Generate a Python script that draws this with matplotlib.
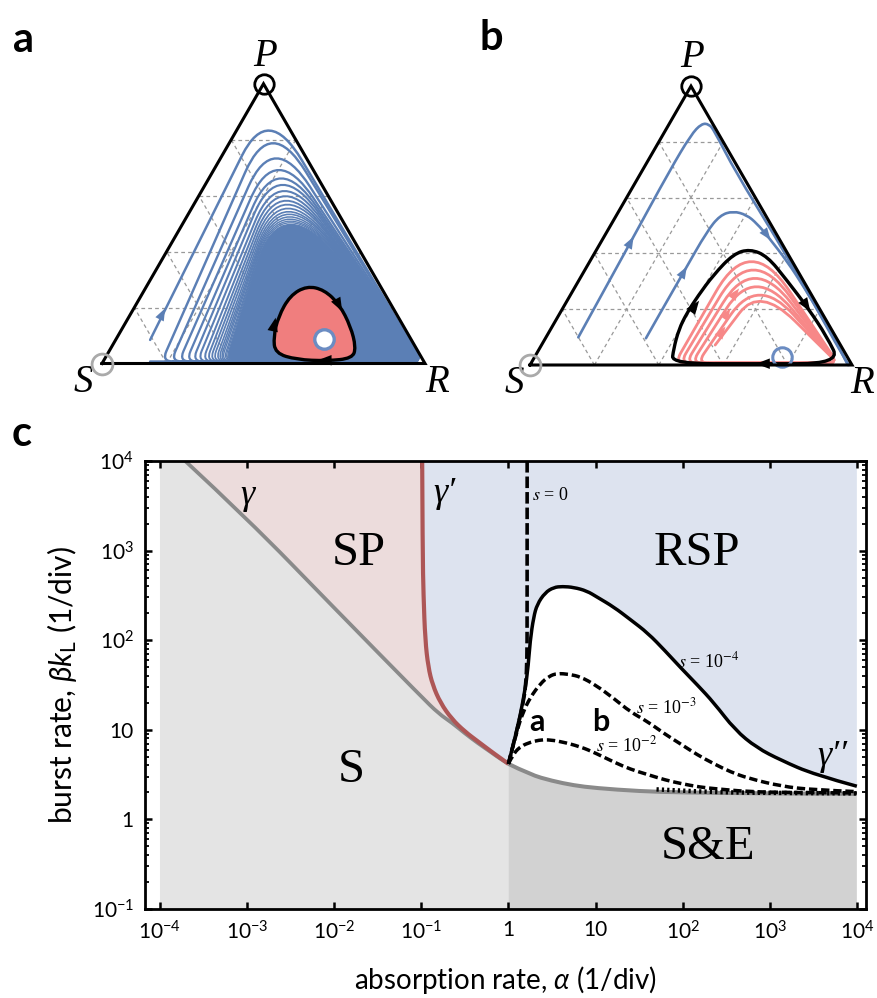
import numpy as np
import matplotlib
matplotlib.use('Agg')
import matplotlib.pyplot as plt
from matplotlib.path import Path
from matplotlib.patches import PathPatch, Polygon
from matplotlib.ticker import LogLocator, NullLocator, FixedLocator, FixedFormatter

W, H = 877, 998
plt.rcParams['font.family'] = ['Lato', 'DejaVu Sans']
plt.rcParams['mathtext.fontset'] = 'custom'
plt.rcParams['mathtext.rm'] = 'Lato'
plt.rcParams['mathtext.it'] = 'Lato:italic'
plt.rcParams['mathtext.bf'] = 'Lato:bold'
plt.rcParams['mathtext.fallback'] = 'stixsans'

SERIF = 'Liberation Serif'
BLUE = '#5b7fb5'
SALMON = '#f07e7e'
PINKLINE = '#f78888'

# ---------------- data: panel a (ternary, coordinates in triangle units) ----------------
a_start = (0.149, 0.073)
a_feet = [0.185, 0.213, 0.238, 0.260, 0.279, 0.295, 0.310, 0.322, 0.332, 0.341,
          0.350, 0.357, 0.363, 0.368, 0.374, 0.378, 0.382]
a_apex_x = [0.52, 0.53, 0.54, 0.548, 0.555, 0.56, 0.565, 0.568, 0.571, 0.574,
            0.576, 0.578, 0.58, 0.581, 0.582, 0.583, 0.584, 0.585]
a_apex_y = [0.721, 0.682, 0.635, 0.599, 0.573, 0.553, 0.534, 0.518, 0.504, 0.492,
            0.480, 0.470, 0.462, 0.454, 0.447, 0.441, 0.436, 0.431]
a_cycle = [(0.536, 0.032), (0.531, 0.083), (0.546, 0.145), (0.582, 0.210), (0.634, 0.240),
           (0.688, 0.228), (0.735, 0.183), (0.770, 0.114), (0.786, 0.050), (0.775, 0.016),
           (0.696, 0.008), (0.603, 0.012)]
a_fixed = (0.688, 0.075)
a_cycle_arrows = [((0.535, 0.130), (0.22, 1.0)), ((0.738, 0.172), (0.47, -0.88)), ((0.68, 0.010), (-1.0, 0.0))]
a_blue_arrows = [((0.190, 0.160), (0.45, 0.89))]

# ---------------- data: panel b ----------------
b_traj1 = [(0.150, 0.086), (0.316, 0.388), (0.435, 0.606), (0.500, 0.715), (0.533, 0.750),
           (0.556, 0.748), (0.572, 0.728), (0.638, 0.600), (0.761, 0.400), (0.877, 0.200),
           (0.970, 0.030), (0.990, 0.000)]
b_traj2 = [(0.360, 0.083), (0.404, 0.161), (0.481, 0.295), (0.549, 0.414), (0.590, 0.465),
           (0.631, 0.478), (0.673, 0.466), (0.704, 0.440), (0.740, 0.398), (0.800, 0.320),
           (0.852, 0.240), (0.912, 0.140), (0.958, 0.060), (0.987, 0.000)]
b_cycle = [(0.440, 0.004), (0.446, 0.050), (0.462, 0.110), (0.487, 0.161), (0.522, 0.215),
           (0.570, 0.280), (0.632, 0.345), (0.683, 0.360), (0.737, 0.338), (0.797, 0.264),
           (0.864, 0.176), (0.922, 0.088), (0.963, 0.004), (0.700, 0.004)]
b_start = (0.575, 0.062)
b_feet = [0.520, 0.502, 0.484, 0.466, 0.450]
b_apex_x = [0.725, 0.714, 0.704, 0.699, 0.694, 0.688]
b_apex_y = [0.197, 0.217, 0.243, 0.269, 0.295, 0.321]
b_fixed = (0.782, 0.026)
b_blue_arrows = [((0.316, 0.388), (0.48, 0.88)), ((0.481, 0.295), (0.5, 0.866)), ((0.740, 0.398), (0.6, -0.8))]
b_black_arrows = [((0.518, 0.190), (0.6, 0.8)), ((0.864, 0.176), (0.55, -0.84)), ((0.714, 0.004), (-1.0, 0.0))]
b_pink_arrows = [((0.600, 0.109), (0.55, 0.83)), ((0.616, 0.166), (0.55, 0.83)), ((0.642, 0.228), (0.6, 0.8))]

# ---------------- data: panel c (log10 of alpha, log10 of burst rate) ----------------
gamma_la = [-3.71, -3.0, -2.0, -1.0, -0.8, -0.65, -0.5, -0.35, -0.2, -0.1, 0.0]
gamma_lb = [4.0, 3.36, 2.36, 1.37, 1.18, 1.08, 0.96, 0.85, 0.75, 0.68, 0.62]
gammap_la = [-0.99, -0.985, -0.975, -0.955, -0.92, -0.87, -0.78, -0.65, -0.5, -0.35, -0.2, -0.1, 0.0]
gammap_lb = [4.0, 3.0, 2.5, 2.0, 1.7, 1.5, 1.3, 1.12, 0.98, 0.87, 0.76, 0.69, 0.62]
gammapp_la = [0.0, 0.25, 0.5, 0.75, 1.0, 1.5, 2.0, 3.0, 4.0]
gammapp_lb = [0.62, 0.50, 0.43, 0.38, 0.35, 0.315, 0.30, 0.29, 0.285]
s0_la = [0.215, 0.215, 0.213, 0.20, 0.17, 0.10, 0.0]
s0_lb = [4.0, 2.2, 1.8, 1.5, 1.3, 1.0, 0.62]
s4_la = [0.0, 0.1, 0.17, 0.22, 0.25, 0.29, 0.33, 0.42, 0.52, 0.62, 0.75, 0.9, 1.02, 1.21,
         1.4, 1.6, 1.8, 1.98, 2.17, 2.36, 2.6, 2.85, 3.13, 3.51, 4.0]
s4_lb = [0.62, 1.0, 1.33, 1.63, 2.0, 2.26, 2.40, 2.53, 2.59, 2.60, 2.59, 2.55, 2.48, 2.37,
         2.23, 2.08, 1.88, 1.69, 1.5, 1.30, 1.0, 0.80, 0.66, 0.50, 0.37]
s3_la = [0.0, 0.1, 0.17, 0.25, 0.37, 0.47, 0.56, 0.7, 0.83, 1.0, 1.21, 1.4, 1.6, 1.8, 1.98,
         2.17, 2.36, 2.55, 2.75, 3.13, 3.5, 4.0]
s3_lb = [0.62, 1.0, 1.2, 1.36, 1.52, 1.60, 1.63, 1.62, 1.59, 1.50, 1.35, 1.2, 1.09, 0.95, 0.84,
         0.72, 0.62, 0.53, 0.46, 0.37, 0.33, 0.31]
s2_la = [0.0, 0.06, 0.15, 0.25, 0.35, 0.45, 0.6, 0.83, 1.0, 1.21, 1.4, 1.6, 1.8, 1.98, 2.2,
         2.4, 2.75, 3.2, 4.0]
s2_lb = [0.62, 0.74, 0.82, 0.86, 0.885, 0.89, 0.87, 0.81, 0.74, 0.64, 0.56, 0.50, 0.44, 0.40,
         0.36, 0.34, 0.31, 0.30, 0.295]
sdot_la = [1.7, 2.2, 2.6, 3.0, 3.5, 4.0]
sdot_lb = [0.335, 0.31, 0.30, 0.296, 0.293, 0.29]
xtick_vals = [1e-4, 1e-3, 1e-2, 1e-1, 1, 10, 1e2, 1e3, 1e4]
xtick_labels = [r'$\mathdefault{10^{-4}}$', r'$\mathdefault{10^{-3}}$', r'$\mathdefault{10^{-2}}$',
                r'$\mathdefault{10^{-1}}$', '1', '10', r'$\mathdefault{10^{2}}$',
                r'$\mathdefault{10^{3}}$', r'$\mathdefault{10^{4}}$']
ytick_vals = [1e-1, 1, 10, 1e2, 1e3, 1e4]
ytick_labels = [r'$\mathdefault{10^{-1}}$', '1', '10', r'$\mathdefault{10^{2}}$',
                r'$\mathdefault{10^{3}}$', r'$\mathdefault{10^{4}}$']

fig = plt.figure(figsize=(W / 100, H / 100), dpi=100)
HT = np.sqrt(3) / 2


def smooth(pts, closed=False):
    pts = np.asarray(pts, float)
    n = len(pts)
    if closed:
        mids = (pts + np.roll(pts, -1, axis=0)) / 2
        verts = [mids[-1]]
        codes = [Path.MOVETO]
        for i in range(n):
            verts += [pts[i], mids[i]]
            codes += [Path.CURVE3, Path.CURVE3]
        verts.append(mids[-1])
        codes.append(Path.CLOSEPOLY)
    else:
        verts = [pts[0]]
        codes = [Path.MOVETO]
        if n == 2:
            verts.append(pts[1])
            codes.append(Path.LINETO)
        for i in range(1, n - 1):
            end = pts[-1] if i == n - 2 else (pts[i] + pts[i + 1]) / 2
            verts += [pts[i], end]
            codes += [Path.CURVE3, Path.CURVE3]
    return Path(np.array(verts), codes)


def loop(F, A, Rc, s, foot=True, rf=0.035, rr=0.03):
    F, A, Rc = (np.asarray(v, float) for v in (F, A, Rc))
    C = (A - s * (F + Rc) / 4) / (1 - s / 2)
    LT = C + s * (F - C)
    RT = C + s * (Rc - C)
    uL = (C - F) / np.linalg.norm(C - F)
    uR = (Rc - C) / np.linalg.norm(Rc - C)
    verts, codes = [], []
    if foot:
        verts += [F + [rf, 0], F, F + rf * uL]
        codes += [Path.MOVETO, Path.CURVE3, Path.CURVE3]
    else:
        verts += [F]
        codes += [Path.MOVETO]
    verts += [LT, C, RT]
    codes += [Path.LINETO, Path.CURVE3, Path.CURVE3]
    verts += [Rc - rr * uR, Rc, Rc + [-rr, 0]]
    codes += [Path.LINETO, Path.CURVE3, Path.CURVE3]
    end_x = F[0] + rf if foot else F[0]
    verts += [[end_x, Rc[1]]]
    codes += [Path.LINETO]
    return Path(np.array(verts), codes)


def arrow(ax, pos, d, color, ms=9, z=10):
    pos = np.asarray(pos, float)
    d = np.asarray(d, float)
    d = d / np.linalg.norm(d)
    ax.annotate('', xy=pos + 0.012 * d, xytext=pos - 0.012 * d,
                arrowprops=dict(arrowstyle='-|>,head_length=1.1,head_width=0.42',
                                color=color, lw=0.01, shrinkA=0, shrinkB=0,
                                mutation_scale=ms), zorder=z)


def tern_axes(Sx, Sy, side, l, r, t, b):
    ax = fig.add_axes([l / W, 1 - b / H, (r - l) / W, (b - t) / H])
    ax.set_xlim((l - Sx) / side, (r - Sx) / side)
    ax.set_ylim((Sy - b) / side, (Sy - t) / side)
    ax.axis('off')
    for k in range(1, 5):
        t_ = 0.2 * k
        kw = dict(color='#999999', lw=0.9, ls=(0, (3, 2.5)), zorder=1)
        ax.plot([t_ / 2, 1 - t_ / 2], [t_ * HT, t_ * HT], **kw)
        ax.plot([t_, t_ + (1 - t_) / 2], [0, (1 - t_) * HT], **kw)
        ax.plot([t_, t_ / 2], [0, t_ * HT], **kw)
    return ax


def triangle(ax):
    ax.plot([0, 1, 0.5, 0], [0, 0, HT, 0], color='k', lw=2.2, zorder=20,
            solid_joinstyle='miter', solid_capstyle='projecting')
    ax.plot([0.5], [HT], 'o', ms=14, mfc='none', mec='k', mew=2.0, zorder=25)
    ax.plot([0], [0], 'o', ms=15, mfc='none', mec='#aaaaaa', mew=2.0, zorder=25)


# ================= panel a =================
axa = tern_axes(102, 363.5, 323, 40, 460, 20, 410)
n_a = len(a_apex_x)
svals = np.linspace(0.22, 0.45, n_a)
lws = np.linspace(1.8, 0.9, n_a)
Rc_a = (0.99, 0.006)
paths_a = []
for i in range(n_a):
    if i == 0:
        p = loop(a_start, (a_apex_x[i], a_apex_y[i]), Rc_a, svals[i], foot=False)
    else:
        p = loop((a_feet[i - 1], 0.006), (a_apex_x[i], a_apex_y[i]), Rc_a, svals[i])
    paths_a.append(p)
axa.add_patch(PathPatch(paths_a[-1], fc=BLUE, ec='none', zorder=2))
for i, p in enumerate(paths_a):
    axa.add_patch(PathPatch(p, fill=False, ec=BLUE, lw=lws[i], zorder=3, capstyle='round'))
for pos, d in a_blue_arrows:
    arrow(axa, pos, d, BLUE, ms=8)
axa.add_patch(PathPatch(smooth(a_cycle, closed=True), fc=SALMON, ec='k', lw=2.4, zorder=6))
for pos, d in a_cycle_arrows:
    arrow(axa, pos, d, 'k', ms=9)
axa.plot([a_fixed[0]], [a_fixed[1]], 'o', ms=14, mfc='white', mec='#6b8cc2', mew=2.4, zorder=8)
triangle(axa)
axa.text(0.505, 0.949, 'P', family=SERIF, style='italic', fontsize=28, ha='center', va='center')
axa.text(-0.057, -0.059, 'S', family=SERIF, style='italic', fontsize=28, ha='center', va='center')
axa.text(1.037, -0.060, 'R', family=SERIF, style='italic', fontsize=28, ha='center', va='center',
         clip_on=False)

# ================= panel b =================
axb = tern_axes(530, 365, 322, 470, 877, 20, 410)
Rc_b = (0.955, 0.006)
n_b = len(b_apex_x)
for i in range(n_b):
    if i == 0:
        p = loop(b_start, (b_apex_x[i], b_apex_y[i]), Rc_b, 0.45, foot=False)
    else:
        p = loop((b_feet[i - 1], 0.006), (b_apex_x[i], b_apex_y[i]), Rc_b, 0.45)
    axb.add_patch(PathPatch(p, fill=False, ec=PINKLINE, lw=2.0, zorder=3, capstyle='round'))
for pos, d in b_pink_arrows:
    arrow(axb, pos, d, PINKLINE, ms=8)
for traj in (b_traj1, b_traj2):
    axb.add_patch(PathPatch(smooth(traj), fill=False, ec=BLUE, lw=1.9, zorder=4, capstyle='round'))
for pos, d in b_blue_arrows:
    arrow(axb, pos, d, BLUE, ms=8)
axb.add_patch(PathPatch(smooth(b_cycle, closed=True), fill=False, ec='k', lw=2.4, zorder=6))
for pos, d in b_black_arrows:
    arrow(axb, pos, d, 'k', ms=9)
axb.plot([b_fixed[0]], [b_fixed[1]], 'o', ms=14, mfc='none', mec='#6b8cc2', mew=2.2, zorder=8)
triangle(axb)
axb.text(0.503, 0.956, 'P', family=SERIF, style='italic', fontsize=28, ha='center', va='center')
axb.text(-0.050, -0.056, 'S', family=SERIF, style='italic', fontsize=28, ha='center', va='center')
axb.text(1.031, -0.056, 'R', family=SERIF, style='italic', fontsize=28, ha='center', va='center',
         clip_on=False)

# ================= panel c =================
axc = fig.add_axes([145 / W, 1 - 909 / H, (866 - 145) / W, (909 - 461) / H])
axc.set_xscale('log')
axc.set_yscale('log')
axc.set_xlim(10 ** -4.172, 10 ** 4.105)
axc.set_ylim(1e-1, 1e4)


def L(la, lb):
    return np.column_stack([la, lb])


def smooth_log(la, lb):
    p = smooth(L(la, lb))
    return Path(10 ** p.vertices, p.codes)


g = L(gamma_la, gamma_lb)
gp = L(gammap_la, gammap_lb)
gpp = L(gammapp_la, gammapp_lb)
s4 = L(s4_la, s4_lb)

poly = np.vstack([[-4, -1], [-4, 4], g, [0, -1]])
axc.add_patch(Polygon(10 ** poly, closed=True, fc='#e4e4e4', ec='none', zorder=0))
poly = np.vstack([g, gp[::-1]])
axc.add_patch(Polygon(10 ** poly, closed=True, fc='#ecdcdc', ec='none', zorder=0))
poly = np.vstack([gp, gpp, [4, 4]])
axc.add_patch(Polygon(10 ** poly, closed=True, fc='#dde3ef', ec='none', zorder=0))
poly = np.vstack([[0, -1], gpp, [4, -1]])
axc.add_patch(Polygon(10 ** poly, closed=True, fc='#d2d2d2', ec='none', zorder=0))
poly = np.vstack([s4, gpp[::-1]])
axc.add_patch(Polygon(10 ** poly, closed=True, fc='white', ec='none', zorder=1))

axc.add_patch(PathPatch(smooth_log(gamma_la, gamma_lb), fill=False, ec='#8a8a8a', lw=2.7, zorder=3))
axc.add_patch(PathPatch(smooth_log(gammapp_la, gammapp_lb), fill=False, ec='#8a8a8a', lw=2.9, zorder=3))
axc.add_patch(PathPatch(smooth_log(gammap_la, gammap_lb), fill=False, ec='#ad5656', lw=3.0, zorder=4))
axc.add_patch(PathPatch(smooth_log(sdot_la, sdot_lb), fill=False, ec='k', lw=3.2, ls=(0, (0.5, 0.7)),
                        zorder=5))
axc.add_patch(PathPatch(smooth_log(s2_la, s2_lb), fill=False, ec='k', lw=2.5, ls=(0, (2.4, 1.1)), zorder=5))
axc.add_patch(PathPatch(smooth_log(s3_la, s3_lb), fill=False, ec='k', lw=2.5, ls=(0, (2.4, 1.1)), zorder=5))
axc.add_patch(PathPatch(smooth_log(s0_la, s0_lb), fill=False, ec='k', lw=2.6, ls=(0, (3.2, 1.1)), zorder=5))
axc.add_patch(PathPatch(smooth_log(s4_la, s4_lb), fill=False, ec='k', lw=2.5, zorder=6))

axc.xaxis.set_major_locator(FixedLocator(xtick_vals))
axc.xaxis.set_major_formatter(FixedFormatter(xtick_labels))
axc.xaxis.set_minor_locator(NullLocator())
axc.yaxis.set_major_locator(FixedLocator(ytick_vals))
axc.yaxis.set_major_formatter(FixedFormatter(ytick_labels))
axc.yaxis.set_minor_locator(LogLocator(base=10, subs=np.arange(2, 10), numticks=50))
axc.tick_params(which='major', direction='in', length=5, width=1.8, top=True, right=True,
                labelsize=15, pad=8)
axc.tick_params(which='minor', direction='in', length=3, width=1.3, top=True, right=True)
axc.tick_params(axis='y', which='minor', labelleft=False)
for sp in axc.spines.values():
    sp.set_linewidth(2.0)
    sp.set_zorder(10)

tkw = dict(family=SERIF, ha='center', va='center', zorder=12)
axc.text(10 ** -3.0, 10 ** 3.62, 'γ', fontsize=26, style='italic', **tkw)
axc.text(10 ** -0.73, 10 ** 3.64, 'γ\u2032', fontsize=26, style='italic', **tkw)
axc.text(10 ** 3.72, 10 ** 0.70, 'γ\u2032\u2032', fontsize=26, style='italic', **tkw)
axc.text(10 ** -1.72, 10 ** 2.97, 'SP', fontsize=35, **tkw)
axc.text(10 ** 2.16, 10 ** 2.97, 'RSP', fontsize=35, **tkw)
axc.text(10 ** -1.8, 10 ** 0.55, 'S', fontsize=35, **tkw)
axc.text(10 ** 2.29, 10 ** -0.31, 'S&E', fontsize=35, **tkw)
skw = dict(family=SERIF, math_fontfamily='stix', ha='left', va='center', fontsize=13, zorder=12)
axc.text(10 ** 0.27, 10 ** 3.62, r'$s$ = 0', **skw)
axc.text(10 ** 1.95, 10 ** 1.76, r'$s$ = 10$^{-4}$', **skw)
axc.text(10 ** 1.46, 10 ** 1.25, r'$s$ = 10$^{-3}$', **skw)
axc.text(10 ** 1.0, 10 ** 0.83, r'$s$ = 10$^{-2}$', **skw)
axc.text(10 ** 0.33, 10 ** 1.09, 'a', fontsize=22, fontweight='bold', ha='center', va='center', zorder=12)
axc.text(10 ** 1.06, 10 ** 1.09, 'b', fontsize=22, fontweight='bold', ha='center', va='center', zorder=12)

fig.text(505 / W, 1 - 980 / H, r'absorption rate, $\alpha$ (1/div)', fontsize=20, ha='center', va='center')
fig.text(62 / W, 1 - 685 / H, r'burst rate, $\beta k_{\mathrm{L}}$ (1/div)', fontsize=21.5,
         rotation=90, ha='center', va='center')

fig.text(13 / W, 1 - 52 / H, 'a', fontsize=30, fontweight='bold', ha='left', va='baseline')
fig.text(480 / W, 1 - 50 / H, 'b', fontsize=30, fontweight='bold', ha='left', va='baseline')
fig.text(12 / W, 1 - 446 / H, 'c', fontsize=30, fontweight='bold', ha='left', va='baseline')

fig.savefig('out.png', dpi=100)
